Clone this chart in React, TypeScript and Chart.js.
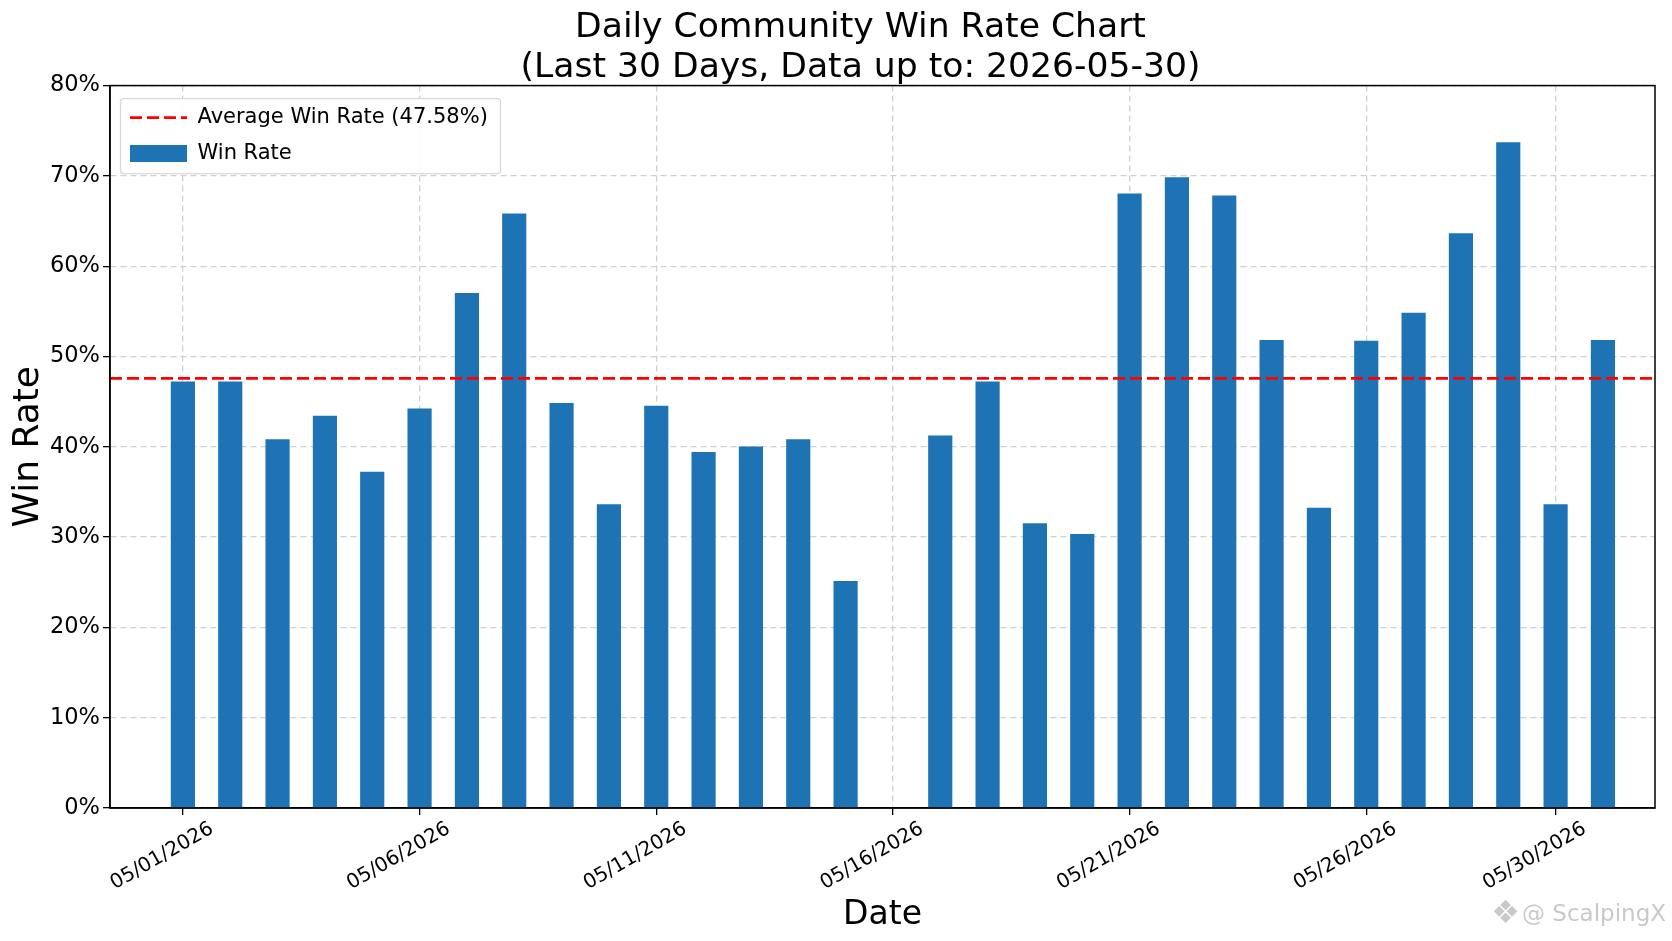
import { useEffect, useRef } from 'react'
import { Chart, registerables } from 'chart.js'

Chart.register(...registerables)

const days = [1, 2, 3, 4, 5, 6, 7, 8, 9, 10, 11, 12, 13, 14, 15, 16, 17, 18, 19, 20, 21, 22, 23, 24, 25, 26, 27, 28, 29, 30, 31]
const winRates = [47.2, 47.2, 40.8, 43.4, 37.2, 44.2, 57.0, 65.8, 44.8, 33.6, 44.5, 39.4, 40.0, 40.8, 25.1, null, 41.2, 47.2, 31.5, 30.3, 68.0, 69.8, 67.8, 51.8, 33.2, 51.7, 54.8, 63.6, 73.7, 33.6, 51.8]
const tickDays = [1, 6, 11, 16, 21, 26, 30]
const tickLabels = ['05/01/2026', '05/06/2026', '05/11/2026', '05/16/2026', '05/21/2026', '05/26/2026', '05/30/2026']
const averageWinRate = 47.58
const xMin = -0.54
const xMax = 32.1

const FONT = '"DejaVu Sans", sans-serif'

const framePlugin = {
  id: 'frame',
  afterLayout(chart: any) {
    // the title sits left of the plot centre, the legend a little inside the axes
    chart.titleBlock.left += 33
    chart.titleBlock.right += 33
    chart.legend.left = chart.chartArea.left + 5
    chart.legend.top = chart.chartArea.top + 6.5
  },
  afterDatasetsDraw(chart: any) {
    const { ctx, chartArea, legend } = chart
    ctx.save()
    ctx.beginPath()
    ctx.roundRect(chartArea.left + 10.5, chartArea.top + 13, 380, 75, 3)
    ctx.fillStyle = 'rgba(255,255,255,0.92)'
    ctx.fill()
    ctx.strokeStyle = '#d9d9d9'
    ctx.lineWidth = 1.3
    ctx.stroke()
    ctx.restore()
    legend.draw(ctx)

    ctx.save()
    ctx.strokeStyle = '#000'
    ctx.lineWidth = 1.5
    ctx.strokeRect(chartArea.left, chartArea.top, chartArea.width, chartArea.height)
    ctx.fillStyle = '#c9c9c9'
    ctx.font = `23px ${FONT}`
    ctx.textAlign = 'right'
    ctx.textBaseline = 'middle'
    ctx.fillText('@ ScalpingX', 1666, 915)
    ctx.font = `32px ${FONT}`
    ctx.fillText('❖', 1520, 915)
    ctx.restore()
  },
}

export default function App() {
  const canvasRef = useRef<HTMLCanvasElement>(null)

  useEffect(() => {
    if (!canvasRef.current) return
    const grid = {
      color: '#d0d0d0',
      lineWidth: 1.3,
      tickColor: '#000',
      tickLength: 7,
      tickWidth: 1.3,
    }
    const chart = new Chart(canvasRef.current, {
      type: 'bar',
      data: {
        datasets: [
          {
            type: 'line',
            label: `Average Win Rate (${averageWinRate}%)`,
            data: [{ x: xMin, y: averageWinRate }, { x: xMax, y: averageWinRate }],
            borderColor: '#ff0000',
            borderWidth: 2.6,
            borderDash: [12, 5],
            pointRadius: 0,
            order: 0,
          },
          {
            type: 'bar',
            label: 'Win Rate',
            data: days.map((d, i) => ({ x: d, y: winRates[i] })),
            backgroundColor: '#1d73b4',
            barThickness: 23.5,
            order: 1,
          },
        ],
      } as any,
      options: {
        animation: false,
        responsive: false,
        layout: { padding: { right: 17 } },
        plugins: {
          tooltip: { enabled: false },
          title: {
            display: true,
            text: ['Daily Community Win Rate Chart', '(Last 30 Days, Data up to: 2026-05-30)'],
            color: '#000',
            font: { family: FONT, size: 34.6, weight: 'normal', lineHeight: 1.15 },
            padding: { top: 8, bottom: -2 },
          },
          legend: {
            position: 'chartArea',
            align: 'start',
            labels: {
              color: '#000',
              font: { family: FONT, size: 21 },
              usePointStyle: true,
              pointStyleWidth: 57,
              boxHeight: 17,
              padding: 15,
              generateLabels: () => [
                { text: `Average Win Rate (${averageWinRate}%)`, pointStyle: 'line', strokeStyle: '#ff0000', fillStyle: '#ff0000', lineWidth: 2.6, lineDash: [12, 5], datasetIndex: 0 },
                { text: 'Win Rate', pointStyle: 'rect', strokeStyle: '#1d73b4', fillStyle: '#1d73b4', lineWidth: 0, datasetIndex: 1 },
              ],
            },
          },
        },
        scales: {
          x: {
            type: 'linear',
            offset: false,
            min: xMin,
            max: xMax,
            afterBuildTicks: (scale: any) => {
              scale.ticks = tickDays.map(value => ({ value }))
            },
            afterFit: (scale: any) => {
              scale.height = 133
            },
            ticks: {
              autoSkip: false,
              minRotation: 30,
              maxRotation: 30,
              labelOffset: 29,
              padding: 2,
              color: '#000',
              font: { family: FONT, size: 20 },
              callback: (v: any) => tickLabels[tickDays.indexOf(v)],
            },
            grid: { ...grid, offset: false },
            border: { color: '#000', width: 1.5, dash: [6, 4] },
            title: {
              display: true,
              text: 'Date',
              color: '#000',
              font: { family: FONT, size: 33 },
              padding: { top: 4, bottom: 6 },
            },
          },
          y: {
            min: 0,
            max: 80,
            afterFit: (scale: any) => {
              scale.width = 110
            },
            ticks: {
              stepSize: 10,
              padding: 3,
              color: '#000',
              font: { family: FONT, size: 22.5 },
              callback: (v: any) => `${v}%`,
            },
            grid,
            border: { color: '#000', width: 1.5, dash: [6, 4] },
            title: {
              display: true,
              text: 'Win Rate',
              color: '#000',
              font: { family: FONT, size: 36 },
              padding: { top: 7, bottom: 0 },
            },
          },
        },
      },
      plugins: [framePlugin],
    } as any)

    return () => { chart.destroy() }
  }, [])

  return (
    <div style={{ position: 'absolute', left: 0, top: 0, width: 1672, height: 941, background: '#fff' }}>
      <canvas ref={canvasRef} width={1672} height={941} />
    </div>
  )
}
